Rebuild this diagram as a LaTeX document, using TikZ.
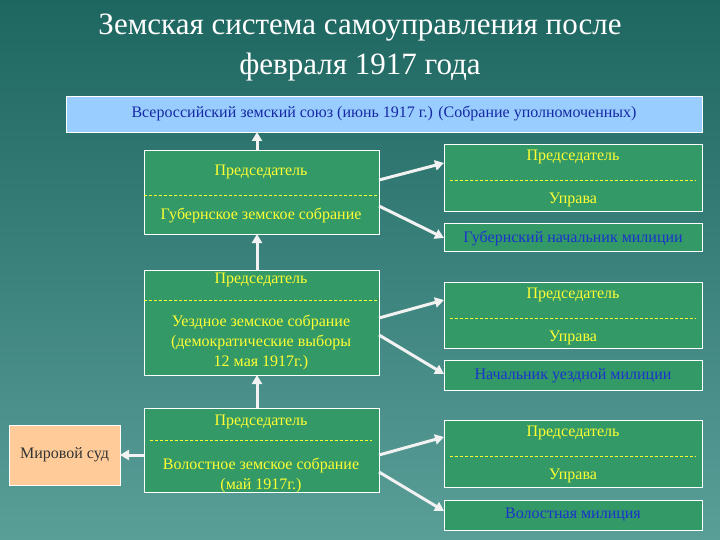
\documentclass[tikz,border=0pt]{standalone}
\usepackage{fontspec}
\setmainfont{Liberation Serif}
\usetikzlibrary{arrows.meta}
\definecolor{bgt}{HTML}{1E6660}
\definecolor{bgb}{HTML}{5A9E98}
\definecolor{gbox}{HTML}{339966}
\definecolor{ytx}{HTML}{FFFF33}
\definecolor{btx}{HTML}{1A33CC}
\definecolor{topf}{HTML}{99CCFF}
\definecolor{msf}{HTML}{FFCC99}
\tikzset{
 gb/.style={draw=white,fill=gbox,line width=0.8pt},
 yt/.style={text=ytx,font=\fontsize{16}{20}\selectfont,align=center},
 bt/.style={text=btx,font=\fontsize{16}{18}\selectfont},
 dl/.style={draw=ytx,dashed,dash pattern=on 3pt off 2pt,line width=0.6pt},
 ar/.style={draw=white!90!gray,line width=3pt,-{Triangle[length=9pt,width=10pt]}},
}
\begin{document}
\begin{tikzpicture}[x=1pt,y=-1pt]
\shade[top color=bgt,bottom color=bgb] (0,0) rectangle (720,540);
\useasboundingbox (0,0) rectangle (720,540);
\node[text=white,font=\fontsize{31}{40}\selectfont,align=center] (title) at (360,48) {Земская система самоуправления после\\февраля 1917 года};
% top
\path[draw=white,fill=topf,line width=0.8pt] (66,96) rectangle (702,132);
\node[text=btx!80!black,font=\fontsize{16}{18}\selectfont] (top) at (384,114) {Всероссийский земский союз (июнь 1917 г.) (Собрание уполномоченных)};
\coordinate (topb) at (257,132);
% left boxes
\path[gb] (144,150) rectangle (379,234); \draw[dl] (144,195)--(379,195);
\node[yt] (g1) at (261,172) {Председатель};
\node[yt] (g2) at (261,215) {Губернское земское собрание};
\coordinate (gt) at (257,150); \coordinate (gbm) at (257,234);
\path[gb] (144,270) rectangle (379,375); \draw[dl] (144,300)--(379,300);
\node[yt] (u1) at (261,280) {Председатель};
\node[yt] (u2) at (261,342) {Уездное земское собрание\\(демократические выборы\\12 мая 1917г.)};
\coordinate (ut) at (257,270); \coordinate (ubm) at (257,375);
\path[gb] (144,408) rectangle (379,492); \draw[dl] (150,440)--(372,440);
\node[yt] (v1) at (261,422) {Председатель};
\node[yt] (v2) at (261,475) {Волостное земское собрание\\(май 1917г.)};
\coordinate (vt) at (257,408); \coordinate (vl) at (144,455);
\path[draw=white,fill=msf,line width=0.8pt] (9,425) rectangle (120,485);
\node[font=\fontsize{16}{18}\selectfont,text=black!80] (ms) at (64.5,455) {Мировой суд};
\coordinate (msr) at (120,455);
% right boxes
\path[gb] (444,144) rectangle (702,211); \draw[dl] (450,180)--(696,180);
\node[yt] (r1a) at (573,157) {Председатель};
\node[yt] (r1b) at (573,200) {Управа};
\path[gb] (444,223) rectangle (702,251);
\node[bt] (r2) at (573,238) {Губернский начальник милиции};
\path[gb] (444,282) rectangle (702,348); \draw[dl] (450,318)--(696,318);
\node[yt] (r3a) at (573,295) {Председатель};
\node[yt] (r3b) at (573,338) {Управа};
\path[gb] (444,360) rectangle (702,390);
\node[bt] (r4) at (573,376) {Начальник уездной милиции};
\path[gb] (444,420) rectangle (702,487); \draw[dl] (450,456)--(696,456);
\node[yt] (r5a) at (573,433) {Председатель};
\node[yt] (r5b) at (573,476) {Управа};
\path[gb] (444,500) rectangle (702,530);
\node[bt] (r6) at (573,515) {Волостная милиция};
% arrows
\draw[ar] (gt)--(topb);
\draw[ar] (ut)--(gbm);
\draw[ar] (vt)--(ubm);
\draw[ar] (vl)--(msr);
\draw[ar] (379,180)--(444,163);
\draw[ar] (379,206)--(444,238);
\draw[ar] (379,318)--(444,300);
\draw[ar] (379,335)--(444,374);
\draw[ar] (379,455)--(444,437);
\draw[ar] (379,472)--(444,511);
\end{tikzpicture}
\end{document}
